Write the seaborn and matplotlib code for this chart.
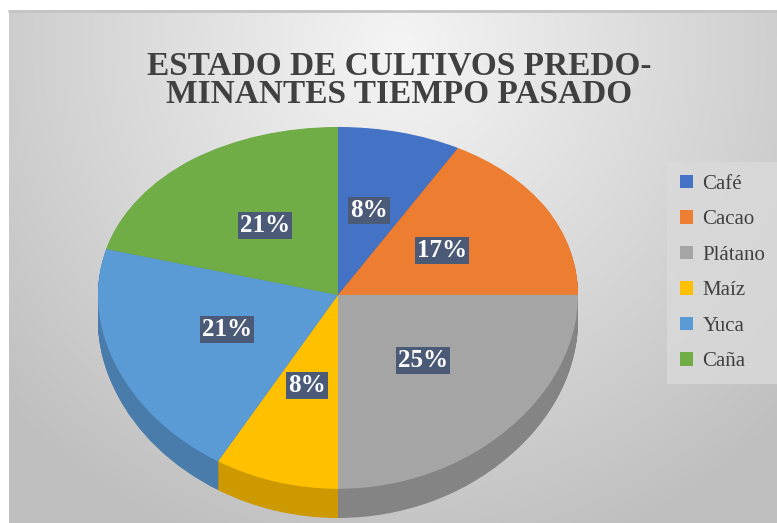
import numpy as np
import matplotlib.pyplot as plt
import seaborn as sns
from matplotlib.patches import Patch
from matplotlib.colors import to_rgb

sns.set_theme(style="white")
plt.rcParams['font.family'] = ['Liberation Serif', 'DejaVu Serif']

# data
cultivos = ['Café', 'Cacao', 'Plátano', 'Maíz', 'Yuca', 'Caña']
conteos = [2, 4, 6, 2, 5, 5]
colores = ['#4472c4', '#ed7d31', '#a5a5a5', '#ffc000', '#5b9bd5', '#70ad47']
titulo = 'ESTADO DE CULTIVOS PREDO-\nMINANTES TIEMPO PASADO'

W, H = 777, 523
fig = plt.figure(figsize=(W / 100, H / 100), dpi=100)
fig.patch.set_facecolor('white')

# background with radial gradient (chart area)
bg = fig.add_axes([0, 0, 1, 1])
bg.set_xlim(0, W)
bg.set_ylim(H, 0)
bg.axis('off')
yy, xx = np.mgrid[0:H, 0:W]
d = np.hypot(xx - 395, yy - 40)
val = 0.96 - 0.21 * np.clip(d / 540, 0, 1)
img = np.dstack([val, val, val])
bg.imshow(img, extent=(9, W, H, 10), aspect='auto', zorder=0)
bg.plot([9, W], [10.5, 10.5], color='#c4c4c4', lw=2, zorder=1)


# slight perspective: front half of the pie drawn taller than back half
def persp(y):
    y = np.asarray(y, dtype=float)
    return 181 * y - 13 * y ** 2


def persp_inv(t):
    t = np.asarray(t, dtype=float)
    return (181 - np.sqrt(np.clip(181 ** 2 - 52 * t, 0, None))) / 26


ax = fig.add_axes([98 / W, 5 / H, 480 / W, 391 / H])
depth = 0.14
n_layers = 40
lados = [tuple(c * 0.8 for c in to_rgb(col)) for col in colores]
for k in range(n_layers, 0, -1):
    ax.pie(conteos, colors=lados, startangle=90, counterclock=False,
           radius=1, center=(0, -depth * k / n_layers),
           wedgeprops=dict(linewidth=0, antialiased=True))
wedges, _, autotexts = ax.pie(
    conteos, colors=colores, startangle=90, counterclock=False,
    radius=1, center=(0, 0), autopct='%1.0f%%', pctdistance=0.5,
    wedgeprops=dict(linewidth=0, antialiased=True))
for t in autotexts:
    t.set_color('white')
    t.set_fontsize(18)
    t.set_fontweight('bold')
    t.set_bbox(dict(facecolor='#4b5b77', edgecolor='none', pad=1.5))
ax.set_aspect('auto')
ax.set_yscale('function', functions=(persp, persp_inv))
ax.set_xlim(-1, 1)
ax.set_ylim(-1 - depth, 1)
ax.axis('off')

fig.text(399 / W, 1 - 80 / H, titulo, ha='center', va='center',
         fontsize=24, fontweight='bold', color='#404040', linespacing=0.88)

handles = [Patch(facecolor=c, edgecolor='none') for c in colores]
leg = fig.legend(handles, cultivos, loc='upper left',
                 bbox_to_anchor=(667 / W, 1 - 162 / H), frameon=True,
                 fontsize=15, handlelength=0.65, handleheight=0.65,
                 handletextpad=0.45, labelspacing=0.78, borderpad=0.6,
                 borderaxespad=0, fancybox=False, labelcolor='#404040')
leg.get_frame().set_facecolor('#dadada')
leg.get_frame().set_alpha(0.8)
leg.get_frame().set_edgecolor('none')

fig.savefig('out.png', dpi=100)
